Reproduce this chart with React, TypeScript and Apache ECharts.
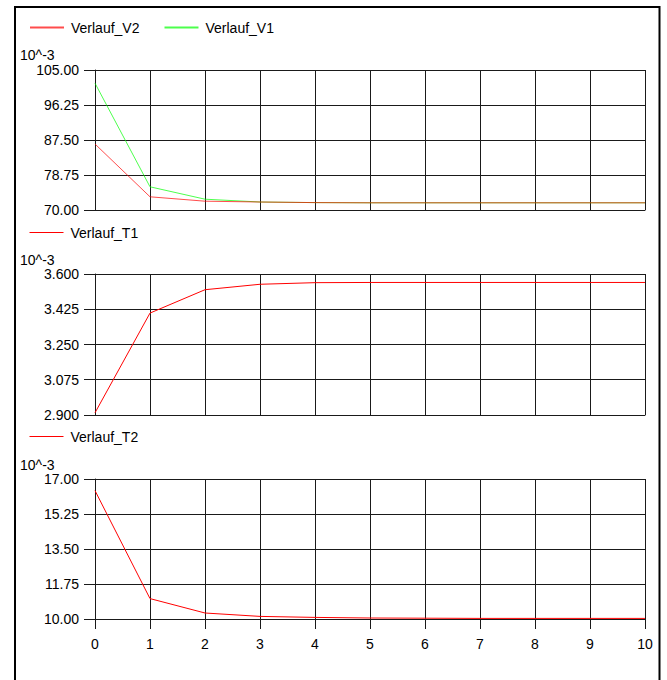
import React, { useEffect, useRef } from "react";
import * as echarts from "echarts";

const steps = [0, 1, 2, 3, 4, 5, 6, 7, 8, 9, 10];
const verlaufV2 = [86.5, 73.3, 72.2, 72.0, 71.85, 71.8, 71.8, 71.8, 71.8, 71.8, 71.8];
const verlaufV1 = [101.7, 75.8, 72.7, 72.0, 71.85, 71.8, 71.8, 71.8, 71.8, 71.8, 71.8];
const verlaufT1 = [2.911, 3.406, 3.522, 3.549, 3.557, 3.558, 3.558, 3.558, 3.558, 3.558, 3.558];
const verlaufT2 = [16.42, 11.02, 10.3, 10.13, 10.08, 10.05, 10.04, 10.03, 10.03, 10.03, 10.03];

const vTicks = [70, 78.75, 87.5, 96.25, 105];
const t1Ticks = [2.9, 3.075, 3.25, 3.425, 3.6];
const t2Ticks = [10, 11.75, 13.5, 15.25, 17];
const unitLabel = "10^-3";

const FONT = '"Liberation Sans", Arial, sans-serif';
const LINE = "#1a1a1a";

const pairs = (ys: number[]) => steps.map((x, i) => [x, ys[i]]);

export default function App() {
  const ref = useRef<HTMLDivElement>(null);

  useEffect(() => {
    if (!ref.current) return;
    const chart = echarts.init(ref.current, undefined, { renderer: "svg" });

    const grids = [
      { left: 95, right: 22, top: 70, height: 140 },
      { left: 95, right: 22, top: 274, height: 141 },
      { left: 95, right: 22, top: 479, height: 140 },
    ];

    const xAxes = grids.map((_, i) => ({
      type: "value",
      gridIndex: i,
      min: 0,
      max: 10,
      interval: 1,
      axisLine: { show: true, lineStyle: { color: LINE, width: 1 } },
      axisTick: { show: i === 2, length: 10, lineStyle: { color: LINE, width: 1 } },
      axisLabel: {
        show: i === 2,
        margin: 18,
        color: "#000",
        fontSize: 14,
        fontFamily: FONT,
      },
      splitLine: { show: true, lineStyle: { color: LINE, width: 1 } },
    }));

    const yDefs = [
      { ticks: vTicks, dec: 2 },
      { ticks: t1Ticks, dec: 3 },
      { ticks: t2Ticks, dec: 2 },
    ];

    const yAxes = yDefs.map((d, i) => ({
      type: "value",
      gridIndex: i,
      min: d.ticks[0],
      max: d.ticks[d.ticks.length - 1],
      interval: d.ticks[1] - d.ticks[0],
      axisLine: { show: true, lineStyle: { color: LINE, width: 1 } },
      axisTick: {
        show: true,
        length: 11,
        customValues: d.ticks,
        lineStyle: { color: LINE, width: 1 },
      },
      axisLabel: {
        customValues: d.ticks,
        margin: 16,
        color: "#000",
        fontSize: 14,
        fontFamily: FONT,
        formatter: (v: number) => v.toFixed(d.dec),
      },
      splitLine: { show: true, lineStyle: { color: LINE, width: 1 } },
    }));

    const legendBase = {
      padding: 0,
      itemWidth: 34,
      itemHeight: 14,
      itemGap: 24,
      itemStyle: { opacity: 0 },
      textStyle: { fontSize: 14, fontFamily: FONT, color: "#000", padding: [0, 0, 0, 2] },
    };

    const option: any = {
      animation: false,
      backgroundColor: "#fff",
      grid: grids,
      xAxis: xAxes,
      yAxis: yAxes,
      legend: [
        { ...legendBase, left: 29, top: 20.5, data: ["Verlauf_V2", "Verlauf_V1"] },
        { ...legendBase, lineStyle: { width: 1 }, left: 29, top: 225.5, data: ["Verlauf_T1"] },
        { ...legendBase, lineStyle: { width: 1 }, left: 29, top: 429.5, data: ["Verlauf_T2"] },
      ],
      graphic: [
        {
          type: "rect",
          silent: true,
          shape: { x: 15, y: 7, width: 644.5, height: 700 },
          style: { fill: "none", stroke: "#000", lineWidth: 2 },
        },
        ...[55, 260, 465].map((y) => ({
          type: "text",
          silent: true,
          x: 20,
          y,
          style: {
            text: unitLabel,
            font: `14px ${FONT}`,
            fill: "#000",
            verticalAlign: "middle",
          },
        })),
      ],
      series: [
        {
          name: "Verlauf_V1",
          type: "line",
          xAxisIndex: 0,
          yAxisIndex: 0,
          symbol: "none",
          color: "#00ff00",
          lineStyle: { width: 1, color: "#00ff00", opacity: 0.7 },
          data: pairs(verlaufV1),
        },
        {
          name: "Verlauf_V2",
          type: "line",
          xAxisIndex: 0,
          yAxisIndex: 0,
          symbol: "none",
          color: "#ff0000",
          lineStyle: { width: 1, color: "#ff0000", opacity: 0.7 },
          data: pairs(verlaufV2),
        },
        {
          name: "Verlauf_T1",
          type: "line",
          xAxisIndex: 1,
          yAxisIndex: 1,
          symbol: "none",
          color: "#ff0000",
          lineStyle: { width: 1, color: "#ff0000" },
          data: pairs(verlaufT1),
        },
        {
          name: "Verlauf_T2",
          type: "line",
          xAxisIndex: 2,
          yAxisIndex: 2,
          symbol: "none",
          color: "#ff0000",
          lineStyle: { width: 1, color: "#ff0000" },
          data: pairs(verlaufT2),
        },
      ],
    };

    chart.setOption(option);
    return () => chart.dispose();
  }, []);

  return (
    <div
      ref={ref}
      style={{ position: "absolute", left: 0, top: 0, width: 667, height: 680 }}
    />
  );
}
